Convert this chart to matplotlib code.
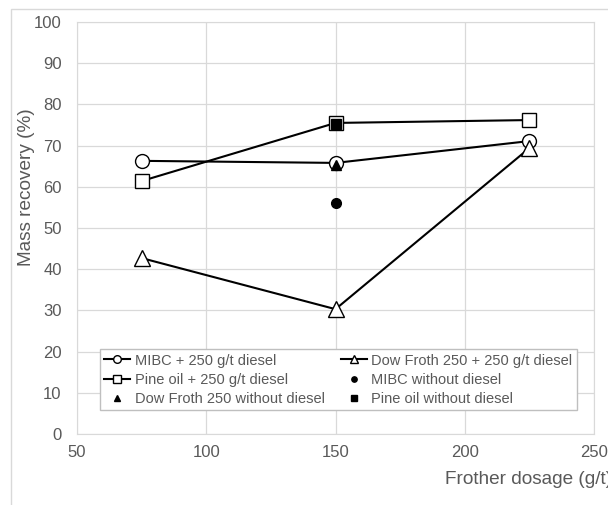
import numpy as np
import matplotlib.pyplot as plt
from matplotlib.patches import Rectangle

plt.rcParams['font.family'] = ['Liberation Sans', 'DejaVu Sans']

# Data
dosage = [75, 150, 225]
mibc_diesel = [66.3, 65.8, 71.1]
pine_diesel = [61.4, 75.5, 76.2]
dow_diesel = [42.7, 30.3, 69.4]

dosage_single = [150]
mibc_no_diesel = [56.1]
dow_no_diesel = [65.3]
pine_no_diesel = [75.2]

grey = '#595959'
grid = '#d9d9d9'

fig = plt.figure(figsize=(6.08, 5.05), dpi=100)
ax = fig.add_axes([77 / 608, 71 / 505, 517 / 608, 412 / 505])

# frame round the whole chart area
fig.patches.append(Rectangle((11 / 608, -0.05), 1.0, 496 / 505 + 0.05,
                             transform=fig.transFigure, fill=False,
                             edgecolor=grid, linewidth=1.0))

line_kw = dict(color='black', linewidth=1.5, markerfacecolor='white',
               markeredgecolor='black', markeredgewidth=1.0, zorder=3)
h1, = ax.plot(dosage, mibc_diesel, marker='o', markersize=10,
              label='MIBC + 250 g/t diesel', **line_kw)
h2, = ax.plot(dosage, dow_diesel, marker='^', markersize=11,
              label='Dow Froth 250 + 250 g/t diesel', **line_kw)
h3, = ax.plot(dosage, pine_diesel, marker='s', markersize=10,
              label='Pine oil + 250 g/t diesel', **line_kw)

h4, = ax.plot(dosage_single, mibc_no_diesel, 'o', color='black', markersize=7,
              label='MIBC without diesel', zorder=4)
h5, = ax.plot(dosage_single, dow_no_diesel, '^', color='black', markersize=7,
              label='Dow Froth 250 without diesel', zorder=4)
h6, = ax.plot(dosage_single, pine_no_diesel, 's', color='black', markersize=7,
              label='Pine oil without diesel', zorder=4)

ax.set_xlim(50, 250)
ax.set_ylim(0, 100)
ax.set_xticks(np.arange(50, 251, 50))
ax.set_yticks(np.arange(0, 101, 10))
ax.grid(True, color=grid, linewidth=0.9)
ax.set_axisbelow(True)
for s in ax.spines.values():
    s.set_color(grid)
ax.tick_params(length=0, labelsize=12, labelcolor=grey)
ax.tick_params(axis='y', pad=11)
ax.tick_params(axis='x', pad=8)

order = [h1, h3, h5, h2, h4, h6]
leg = ax.legend(order, [h.get_label() for h in order],
                ncol=2, loc='lower left', bbox_to_anchor=(0.044, 0.058, 0.923, 0.153),
                mode='expand', fontsize=10.5, markerscale=0.55, handlelength=1.8,
                handletextpad=0.3, labelspacing=0.35, borderpad=0.3,
                fancybox=False, framealpha=1, edgecolor='#bfbfbf', borderaxespad=0)
for t in leg.get_texts():
    t.set_color(grey)
leg.get_frame().set_linewidth(1.0)

fig.text(445 / 608, 1 - 480 / 505, 'Frother dosage (g/t)', fontsize=13.7,
         color=grey, ha='left', va='center')
fig.text(27 / 608, 1 - 187 / 505, 'Mass recovery (%)', fontsize=13.7,
         color=grey, rotation=90, ha='center', va='center')

fig.savefig('out.png', dpi=100)
